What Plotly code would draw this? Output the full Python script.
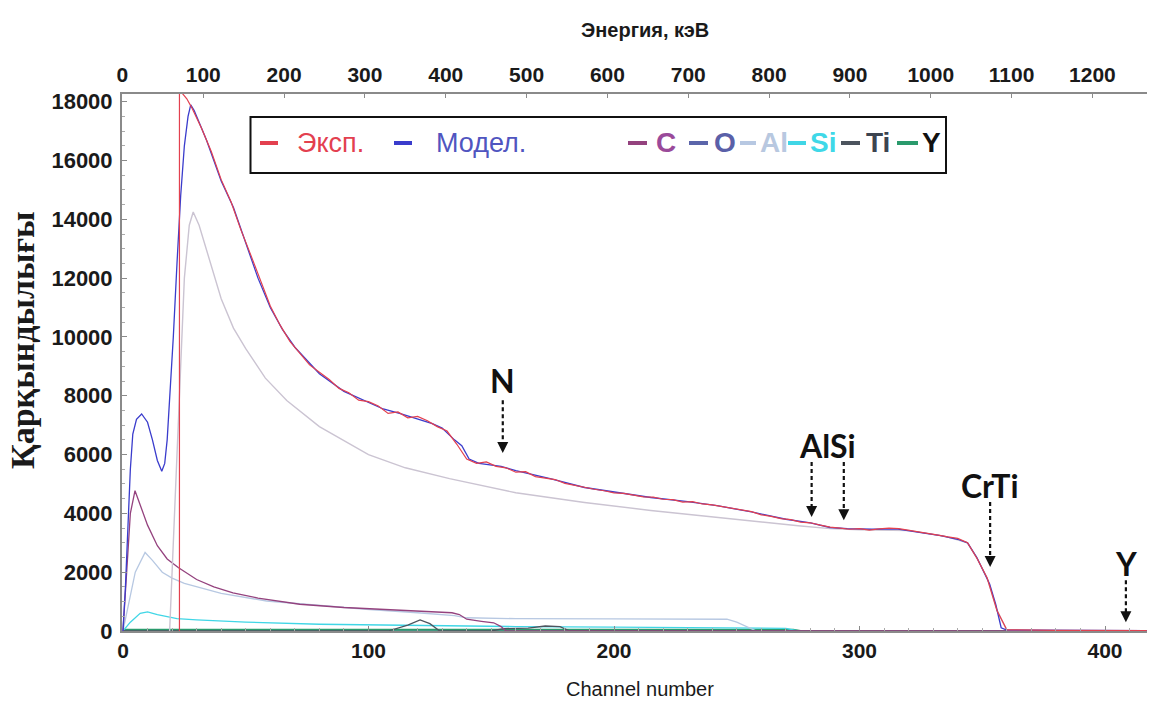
import plotly.graph_objects as go

# ---------------- data (channel number vs counts) ----------------
ch_model = [0, 1, 2, 3, 4, 5.5, 7.6, 10, 12, 14, 15.8, 17, 18, 19, 20.5, 22, 23.5, 25, 26.5, 27.6,
            29, 31, 34, 37, 40, 45, 50, 55, 60, 65, 70, 80, 90, 99, 106, 113, 120, 126, 130, 135,
            138, 141, 145, 154, 160, 174, 188, 200, 215, 230, 242, 256, 270, 280, 288, 295, 305, 315, 325, 333,
            340, 344, 347.8, 350, 353, 355.5, 357.7, 360, 380, 417]
model = [0, 1500, 3500, 5500, 6700, 7200, 7380, 7100, 6500, 5800, 5430, 5700, 6500, 7840, 10000, 12500, 14800, 16500, 17500, 17890,
         17700, 17300, 16700, 16000, 15300, 14400, 13200, 12000, 11000, 10250, 9650, 8750, 8150, 7800, 7550, 7390, 7200, 7050, 6900, 6500,
         6300, 5850, 5700, 5600, 5450, 5180, 4880, 4720, 4540, 4400, 4260, 4050, 3800, 3680, 3520, 3480, 3460, 3470, 3350, 3240,
         3120, 3000, 2500, 2100, 1600, 900, 110, 30, 20, 10]

ch_exp = [23, 23, 24, 26, 28, 32, 36, 40, 44, 48, 52, 56, 60, 64, 68, 72, 76, 80, 84, 88,
          92, 96, 100, 104, 108, 112, 116, 120, 124, 128, 132, 136, 140, 144, 148, 152, 156, 160, 164, 168,
          172, 176, 180, 184, 188, 192, 196, 200, 204, 208, 212, 216, 220, 224, 228, 232, 236, 240, 244, 248,
          252, 256, 260, 264, 268, 272, 276, 280, 284, 288, 292, 296, 300, 304, 308, 312, 316, 320, 324, 328,
          332, 336, 340, 344, 348, 352, 356, 360, 380, 417]
exp = [0, 18400, 18300, 18100, 17800, 17100, 16300, 15350, 14600, 13650, 12800, 11950, 11050, 10400, 9850, 9450, 9050, 8800, 8550, 8250,
       8100, 7850, 7800, 7650, 7400, 7450, 7250, 7300, 7150, 6950, 6800, 6350, 5850, 5700, 5750, 5600, 5550, 5400, 5420, 5250,
       5200, 5150, 5020, 4950, 4900, 4820, 4770, 4700, 4680, 4620, 4560, 4550, 4480, 4470, 4380, 4400, 4320, 4290, 4230, 4180,
       4100, 4060, 3950, 3900, 3820, 3790, 3700, 3680, 3600, 3530, 3500, 3460, 3480, 3430, 3470, 3500, 3480, 3430, 3380, 3330,
       3260, 3200, 3150, 3000, 2450, 1800, 700, 40, 20, 10]

ch_sub = [19, 21, 23, 25, 27, 28.6, 31, 35, 40, 45, 50, 58, 66.7, 80, 100, 115, 133, 160, 188, 215,
          242, 260, 275, 288, 300, 320, 335, 344, 348, 352, 356, 360, 417]
sub = [0, 4000, 8500, 12000, 13800, 14250, 13800, 12700, 11300, 10300, 9600, 8600, 7840, 6950, 6000, 5550, 5180, 4700, 4370, 4100,
       3860, 3700, 3580, 3480, 3440, 3420, 3220, 3000, 2450, 1800, 700, 30, 10]

ch_C = [0, 1.5, 3, 4.9, 7, 10, 14, 18, 22.5, 30, 37, 44.8, 55, 72, 90, 106, 120, 134, 137, 140, 146, 151, 154, 156, 417]
val_C = [0, 2000, 4000, 4770, 4300, 3600, 2900, 2450, 2160, 1750, 1500, 1300, 1120, 910, 800, 740, 680, 620, 560, 400, 330, 280, 150, 0, 0]

ch_O = [0, 417]
val_O = [0, 0]

ch_Al = [0, 2, 5, 9, 12, 16, 20, 25, 31.4, 40, 58.5, 80, 99, 120, 135, 140, 160, 200, 246, 250, 258, 417]
val_Al = [0, 800, 2000, 2670, 2400, 2000, 1800, 1620, 1480, 1280, 1020, 860, 740, 620, 520, 450, 420, 410, 400, 300, 0, 0]

ch_Si = [0, 3, 7, 10, 14, 18, 22, 30, 50, 80, 120, 160, 200, 240, 270, 275, 417]
val_Si = [0, 300, 600, 650, 560, 480, 420, 380, 300, 230, 180, 150, 130, 110, 90, 0, 0]

ch_Ti = [0, 108, 116, 121, 125, 129, 150, 155, 165, 172, 178, 182, 417]
val_Ti = [0, 0, 200, 380, 250, 0, 0, 80, 100, 170, 150, 0, 0]

ch_Y = [0, 273, 276, 417]
val_Y = [40, 40, 0, 0]

energy_ticks = [0, 100, 200, 300, 400, 500, 600, 700, 800, 900, 1000, 1100, 1200]
channel_ticks = [0, 100, 200, 300, 400]
count_ticks = [0, 2000, 4000, 6000, 8000, 10000, 12000, 14000, 16000, 18000]

# peak labels: text, arrow channel, arrow top, arrow tip
peak_labels = ["N", "AlSi", "CrTi", "Y"]
peak_label_ch = [154.7, 286.8, 353.2, 408.5]
peak_label_y = [8530, 6320, 4960, 2310]
arrow_ch = [154.7, 280.5, 293.6, 353.2, 408.5]
arrow_top = [7850, 5750, 5750, 4390, 1730]
arrow_tip = [6050, 3880, 3770, 2180, 300]

# ---------------- styles ----------------
COL_EXP = "#e3404f"
COL_MOD = "#3a3ccc"
COL_C = "#94427e"
COL_O = "#5b65aa"
COL_AL = "#b7c8e2"
COL_SI = "#40d6e6"
COL_TI = "#4c545e"
COL_Y = "#2a9a6c"
COL_SUB = "#cbc4d2"

fig = go.Figure()

def add(x, y, color, width=1.2, xaxis="x"):
    fig.add_trace(go.Scatter(x=x, y=y, mode="lines", line=dict(color=color, width=width),
                             showlegend=False, hoverinfo="skip", xaxis=xaxis))

add(ch_O, val_O, COL_O, 1.5)
add(ch_Y, val_Y, COL_Y, 2)
add(ch_Si, val_Si, COL_SI, 1.3)
add(ch_Al, val_Al, COL_AL, 1.3)
add(ch_Ti, val_Ti, COL_TI, 1.3)
add(ch_C, val_C, COL_C, 1.3)
add(ch_sub, sub, COL_SUB, 1.4)
add(ch_model, model, COL_MOD, 1.3)
add(ch_exp, exp, COL_EXP, 1.2)
# invisible trace for the energy axis
fig.add_trace(go.Scatter(x=[energy_ticks[0], energy_ticks[-1]], y=[None, None], mode="lines",
                         showlegend=False, hoverinfo="skip", xaxis="x2"))

# ---------------- layout geometry ----------------
L, R, T, B = 122, 9, 94, 73
W, H = 1156, 704
PW, PH = W - L - R, H - T - B

def px(xp):
    return (xp - L) / PW

def py(yp):
    return (H - B - yp) / PH

AX_COL = "#8a8a8a"
tickfont = dict(family="Liberation Sans, Arial", size=21, color="#1a1a1a", weight="bold")

fig.update_layout(
    width=W, height=H,
    margin=dict(l=L, r=R, t=T, b=B),
    paper_bgcolor="white", plot_bgcolor="white",
    showlegend=False,
    xaxis=dict(range=[-0.4, 417.1], tickvals=channel_ticks, showgrid=False, zeroline=False,
               showline=True, linecolor=AX_COL, linewidth=2, ticks="inside", ticklen=5, tickcolor=AX_COL,
               minor=dict(dtick=10, ticks="inside", ticklen=3, tickcolor="#aaaaaa"),
               tickfont=tickfont, ticklabelstandoff=0),
    xaxis2=dict(range=[-0.5, 1267.5], tickvals=energy_ticks, overlaying="x", side="top", anchor="y",
                showgrid=False, zeroline=False, showline=True, linecolor=AX_COL, linewidth=2,
                ticks="inside", ticklen=4, tickcolor=AX_COL,
                tickfont=tickfont, ticklabelstandoff=2),
    yaxis=dict(range=[0, 18262], tickvals=count_ticks, tickformat="d", showgrid=False, zeroline=False,
               showline=True, linecolor=AX_COL, linewidth=2, ticks="inside", ticklen=5, tickcolor=AX_COL,
               minor=dict(dtick=500, ticks="inside", ticklen=3, tickcolor="#aaaaaa"),
               tickfont=dict(family="Liberation Sans, Arial", size=22, color="#1a1a1a", weight="bold"),
               ticklabelstandoff=3),
)

annotations = []
shapes = []

# axis titles
annotations.append(dict(text="Энергия, кэВ", x=px(645), y=py(30), xref="paper", yref="paper",
                        xanchor="center", yanchor="middle", showarrow=False,
                        font=dict(family="Liberation Sans, Arial", size=20, color="#1a1a1a", weight="bold")))
annotations.append(dict(text="Channel number", x=px(640), y=py(689), xref="paper", yref="paper",
                        xanchor="center", yanchor="middle", showarrow=False,
                        font=dict(family="Liberation Sans, Arial", size=20, color="#1a1a1a")))
annotations.append(dict(text="Қарқындылығы", x=px(22), y=py(340), xref="paper", yref="paper",
                        xanchor="center", yanchor="middle", textangle=-90, showarrow=False,
                        font=dict(family="Liberation Serif, Times New Roman", size=34, color="#1a1a1a", weight="bold")))

# peak labels & dashed arrows
for t, xc, yc in zip(peak_labels, peak_label_ch, peak_label_y):
    annotations.append(dict(text=t, x=xc, y=yc, xref="x", yref="y", showarrow=False,
                            xanchor="center", yanchor="middle",
                            font=dict(family="Lato", size=32, color="#111111", weight="bold")))
for xc, y0, y1 in zip(arrow_ch, arrow_top, arrow_tip):
    shapes.append(dict(type="line", xref="x", yref="y", x0=xc, x1=xc, y0=y0, y1=y1 + 300,
                       line=dict(color="#111111", width=2.2, dash="4px,3px")))
    annotations.append(dict(text="", x=xc, y=y1, xref="x", yref="y", ax=0, ay=-12,
                            showarrow=True, arrowhead=2, arrowsize=1.1, arrowwidth=2, arrowcolor="#111111"))

# legend box
shapes.append(dict(type="rect", xref="paper", yref="paper", x0=px(250.5), x1=px(946), y0=py(173), y1=py(117),
                   line=dict(color="#111111", width=2), fillcolor="white", layer="above"))
legend_items = [
    ("Эксп.", COL_EXP, 260, 278, 295, 27, "normal", COL_EXP),
    ("Модел.", COL_MOD, 394, 412, 434, 27, "normal", "#5055c0"),
    ("C", COL_C, 628, 647, 654, 28, "bold", "#9a4a9a"),
    ("O", COL_O, 689, 708, 712, 28, "bold", "#5a60a8"),
    ("Al", COL_AL, 740, 756, 758, 28, "bold", "#b8c8e0"),
    ("Si", COL_SI, 788, 806, 808, 28, "bold", "#3fd8e8"),
    ("Ti", COL_TI, 841, 860, 864, 28, "bold", "#3c4450"),
    ("Y", COL_Y, 897, 918, 920, 28, "bold", "#111111"),
]
LEG_Y = 143
for name, lc, x0, x1, xt, fs, fw, tc in legend_items:
    shapes.append(dict(type="line", xref="paper", yref="paper", x0=px(x0), x1=px(x1), y0=py(LEG_Y), y1=py(LEG_Y),
                       line=dict(color=lc, width=4), layer="above"))
    annotations.append(dict(text=name, x=px(xt), y=py(LEG_Y), xref="paper", yref="paper",
                            xanchor="left", yanchor="middle",
                            showarrow=False, font=dict(family="Liberation Sans, Arial", size=fs, color=tc, weight=fw)))

fig.update_layout(annotations=annotations, shapes=shapes)
fig.write_html("out.html", config={"displayModeBar": False},
               post_script="document.body.style.margin='0px';")
